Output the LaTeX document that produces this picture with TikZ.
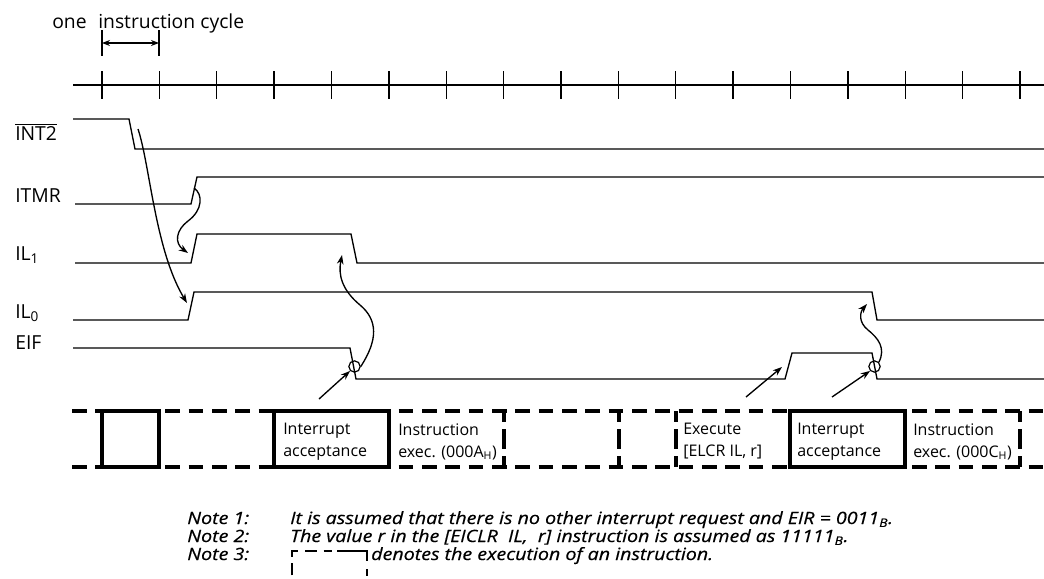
\documentclass[tikz,border=0pt]{standalone}
\usepackage{fontspec}
\setmainfont{Open Sans}
\newfontfamily\notefont{Open Sans}[FakeBold=0.5, FakeStretch=1.16]
\usetikzlibrary{arrows.meta}
\begin{document}
\begin{tikzpicture}[x=0.75pt,y=-0.75pt,
  sig/.style={line width=1pt, line join=miter},
  tickline/.style={line width=1pt},
  lbl/.style={anchor=base west, inner sep=0pt, font=\fontsize{14.5pt}{16pt}\selectfont},
  boxtxt/.style={anchor=north west, inner sep=0pt, align=left, font=\fontsize{12pt}{16.5pt}\selectfont},
  notetxt/.style={anchor=base west, inner sep=0pt, font=\notefont\fontsize{12.7pt}{14pt}\selectfont\itshape},
  band/.style={line width=2.3pt},
  bdash/.style={band, dash pattern=on 11pt off 6.5pt},
  vdash/.style={band, dash pattern=on 8pt off 5.5pt on 15pt off 5.5pt on 8pt off 40pt},
  arr/.style={line width=1pt, -{Stealth[length=7pt,width=5pt]}},
  ring/.style={circle, draw, line width=0.9pt, minimum size=8.5pt, inner sep=0pt}
]
\useasboundingbox (0,0) rectangle (1044,578);
\clip (0,0) rectangle (1044,578);

% instruction cycle dimension
\node[anchor=base west, inner sep=0pt, font=\fontsize{14.5pt}{16pt}\selectfont] (cyc) at (52,28) {one\hspace{0.6em}instruction cycle};
\coordinate (d1) at (102,43);
\coordinate (d2) at (159,43);
\draw[tickline] (102,30) -- (102,56);
\draw[tickline] (159,30) -- (159,56);
\draw[line width=1pt, {Stealth[length=6pt,width=4.5pt]}-{Stealth[length=6pt,width=4.5pt]}] (d1) -- (d2);

% timeline
\draw[line width=0.9pt] (73,85) -- (1044,85);
\foreach \i in {0,...,16} \draw[tickline] ({102+57.375*\i},71) -- ++(0,28);

% labels
\node[lbl] (lint) at (15,140) {$\overline{\mbox{INT2}}$};
\node[lbl] (litmr) at (15,202) {ITMR};
\node[lbl] (lil1) at (15,260) {IL\textsubscript{1}};
\node[lbl] (lil0) at (15,318) {IL\textsubscript{0}};
\node[lbl] (leif) at (15,349) {EIF};

% signals
\draw[sig] (73,119) -- (129,119) -- (135,149) -- (1044,149);
\draw[sig] (75,204) -- (191,204) -- (197,177) -- (1044,177);
\draw[sig] (75,263) -- (191,263) -- (197,234) -- (351,234) -- (357,263) -- (1044,263);
\draw[sig] (73,320) -- (188,320) -- (194,292) -- (872,292) -- (877,320) -- (1044,320);
\draw[sig] (73,348) -- (350,348) -- (356,379) -- (785,379) -- (792,353) -- (872,353) -- (877,379) -- (1044,379);

% circles
\node[ring] (c1) at (354.5,366.5) {};
\node[ring] (c2) at (874.5,366.5) {};

% causal arrows
\coordinate (a1s) at (138,129);
\coordinate (a1e) at (187,303);
\draw[arr] (a1s) .. controls (150,165) and (155,250) .. (a1e);
\coordinate (a2s) at (194,188);
\coordinate (a2m) at (188,221);
\coordinate (a2e) at (188,253);
\draw[arr] (a2s) .. controls (203,194) and (203,210) .. (a2m) .. controls (176,230) and (174,243) .. (a2e);
\coordinate (a3m) at (360,305);
\coordinate (a3e) at (342,255);
\draw[arr] (c1.east) .. controls (378,340) and (378,320) .. (a3m) .. controls (342,290) and (338,275) .. (a3e);
\coordinate (a4m) at (868,330);
\coordinate (a4e) at (867,304);
\draw[arr] (c2.north east) .. controls (886,348) and (878,338) .. (a4m) .. controls (858,322) and (860,312) .. (a4e);
\coordinate (p1) at (319,399);
\coordinate (p2) at (832,397);
\coordinate (p3) at (746,397);
\coordinate (p3e) at (782,367);
\draw[arr] (p1) -- (c1.south west);
\draw[arr] (p2) -- (c2.south west);
\draw[arr] (p3) -- (p3e);

% instruction band
\draw[bdash] (72,411) -- (1044,411);
\draw[bdash] (72,467) -- (1044,467);
\draw[band] (102,411) rectangle (159,467);
\draw[band] (274,411) rectangle (389,467);
\draw[band] (790,411) rectangle (905,467);
\foreach \x in {504,619,676,1020} \draw[vdash] (\x,411) -- (\x,467);

\node[boxtxt] (t1) at (283,423) {Interrupt\\acceptance};
\node[boxtxt] (t2) at (398,423) {Instruction\\exec. (000A\textsubscript{H})};
\node[boxtxt] (t3) at (683,423) {Execute\\{[}ELCR IL, r]};
\node[boxtxt] (t4) at (797,423) {Interrupt\\acceptance};
\node[boxtxt] (t5) at (913,423) {Instruction\\exec. (000C\textsubscript{H})};

% notes
\node[notetxt] (n1) at (187,524) {Note 1:};
\node[notetxt] (n1t) at (290,524) {It is assumed that there is no other interrupt request and EIR = 0011\textsubscript{B}.};
\node[notetxt] (n2) at (187,542) {Note 2:};
\node[notetxt] (n2t) at (290,542) {The value r in the [EICLR\ \ IL,\ \ r] instruction is assumed as 11111\textsubscript{B}.};
\node[notetxt] (n3) at (187,560) {Note 3:};
\draw[band, line width=2pt, dash pattern=on 6pt off 5pt on 9pt off 5pt on 9pt off 5pt on 9pt off 5pt on 6pt off 4pt on 30pt] (292,590) -- (292,551) -- (367,551) -- (367,590);
\node[notetxt] (n3t) at (371,560) {denotes the execution of an instruction.};
\end{tikzpicture}
\end{document}
